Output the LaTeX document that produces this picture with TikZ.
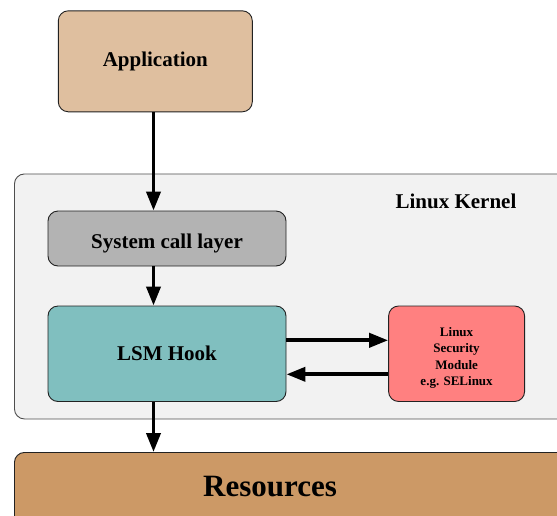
\documentclass[tikz,border=0pt]{standalone}
\usepackage{fontspec}
\setmainfont{Liberation Serif}
\usetikzlibrary{arrows.meta}
\definecolor{appfill}{HTML}{DFBF9F}
\definecolor{kernfill}{HTML}{F2F2F2}
\definecolor{sysfill}{HTML}{B3B3B3}
\definecolor{hookfill}{HTML}{80BFBF}
\definecolor{lsmfill}{HTML}{FF8080}
\definecolor{resfill}{HTML}{CC9966}
\definecolor{edge}{HTML}{222222}
\tikzset{
  box/.style={draw=edge, line width=0.9pt, rounded corners=10pt, inner sep=0pt,
    align=center, font=\fontsize{21}{25}\selectfont\bfseries},
  flow/.style={line width=3.8pt, -{Triangle[length=19pt,width=14pt]}},
}
\begin{document}
\begin{tikzpicture}[x=1pt,y=-1pt]
  \clip (0,0) rectangle (557,515);
  \fill[white] (0,0) rectangle (557,515);
  % kernel frame
  \node[box, fill=kernfill, draw=edge!80, minimum width=553pt, minimum height=245pt,
        anchor=north west] (kern) at (14,173.5) {};
  \node[font=\fontsize{21}{25}\selectfont\bfseries] (kernlbl) at (456,201.7) {Linux Kernel};
  % boxes
  \node[box, fill=appfill, minimum width=194pt, minimum height=101pt] (app) at (155.3,61.3) {Application};
  \node[box, fill=sysfill, minimum width=238pt, minimum height=55pt] (sys) at (167,238.5)
        {\rule{0pt}{25pt}System call layer};
  \node[box, fill=hookfill, minimum width=238pt, minimum height=95.5pt] (hook) at (167,353.75) {LSM Hook};
  \node[box, fill=lsmfill, minimum width=136pt, minimum height=95.5pt,
        font=\fontsize{13}{16.5}\selectfont\bfseries] (lsm) at (456.6,353.75)
        {\rule{0pt}{17pt}Linux\\Security\\Module\\e.g. SELinux};
  \node[box, fill=resfill, minimum width=553pt, minimum height=90pt, anchor=north west] (res) at (14,452) {};
  \node[font=\fontsize{31}{36}\selectfont\bfseries] (reslbl) at (270,487) {Resources};
  % connectors
  \coordinate (col) at (153.5,0);
  \coordinate (upper) at (0,340.3);
  \coordinate (lower) at (0,374.3);
  \draw[flow] (app.south -| col) -- (sys.north -| col);
  \draw[flow] (sys.south -| col) -- (hook.north -| col);
  \draw[flow] (hook.south -| col) -- (res.north -| col);
  \draw[flow] (hook.east |- upper) -- (lsm.west |- upper);
  \draw[flow] (lsm.west |- lower) -- (hook.east |- lower);
\end{tikzpicture}
\end{document}
